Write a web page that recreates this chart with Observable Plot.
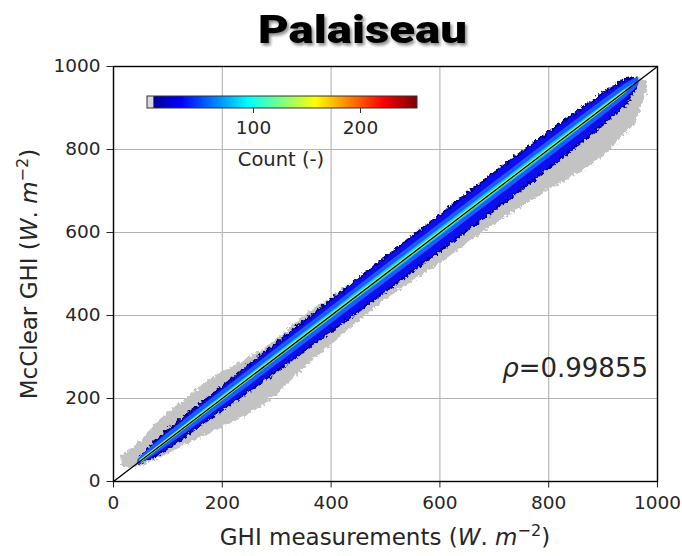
<!DOCTYPE html>
<html>
<head>
<meta charset="utf-8">
<script src="https://cdn.jsdelivr.net/npm/d3@7"></script>
<script src="https://cdn.jsdelivr.net/npm/@observablehq/plot@0.6"></script>
<style>
  html, body { margin: 0; padding: 0; background: #fff; }
  #wrap { position: relative; width: 682px; height: 556px; overflow: hidden; background: #fff; }
  #wrap > svg { position: absolute; left: 0; top: 0; }
</style>
</head>
<body>
<div id="wrap"></div>
<script>
// ---------- data ----------
const title = "Palaiseau";
const xTitle = "GHI measurements";
const yTitle = "McClear GHI";
const rhoValue = "0.99855";
const countLabel = "Count (-)";
const ticks = [0, 200, 400, 600, 800, 1000];
const countTicks = [100, 200];
const countDomain = [0, 254];
const diagonal = [0, 1000];

// grey cloud (low-count cells): envelope per measured GHI
const grayX    = [14, 30, 50, 75, 100, 125, 150, 175, 200, 225, 250, 275, 300, 350, 400, 450, 500, 550, 600, 650, 700, 750, 800, 850, 900, 930, 960, 982];
const grayLow  = [38, 32, 36, 50, 66, 82, 98, 114, 130, 146, 163, 183, 208, 272, 328, 385, 438, 482, 525, 572, 618, 662, 702, 738, 782, 822, 862, 942];
const grayHigh = [62, 76, 96, 136, 166, 190, 218, 244, 264, 280, 300, 318, 342, 398, 442, 492, 540, 590, 638, 690, 737, 790, 836, 886, 932, 958, 975, 962];

// blue / cyan core of the density
const bandX     = [48, 75, 100, 150, 200, 250, 300, 350, 400, 450, 500, 550, 600, 650, 700, 750, 800, 850, 900, 940, 962];
const blueLow   = [43, 57, 78, 124, 170, 217, 264, 312, 360, 408, 456, 505, 554, 603, 652, 702, 753, 805, 858, 905, 947];
const blueHigh  = [53, 93, 122, 175, 227, 280, 332, 384, 435, 487, 538, 590, 640, 692, 742, 792, 840, 888, 935, 968, 972];
const cyanLow   = [46, 69, 92, 139, 188, 237, 287, 336, 386, 436, 485, 535, 585, 635, 685, 735, 785, 836, 887, 929, 956];
const cyanHigh  = [50, 83, 110, 162, 213, 263, 314, 364, 414, 465, 515, 565, 615, 665, 715, 765, 815, 864, 913, 951, 968];

// highest-count ridge
const ridgeX = [50, 940];
const ridgeY = [51, 941];

// ---------- jet colour map ----------
function jet(t) {
  if (t < 0.022) return "rgb(217,217,217)";
  const c = v => Math.round(255 * Math.max(0, Math.min(1, v)));
  return `rgb(${c(1.5 - Math.abs(4 * t - 3))},${c(1.5 - Math.abs(4 * t - 2))},${c(1.5 - Math.abs(4 * t - 1))})`;
}

const grayRows = grayX.map((x, i) => ({x, lo: grayLow[i], hi: grayHigh[i]}));
const bandRows = bandX.map((x, i) => ({x, blo: blueLow[i], bhi: blueHigh[i], clo: cyanLow[i], chi: cyanHigh[i]}));
const ridgeRows = ridgeX.map((x, i) => ({x, y: ridgeY[i]}));

const wrap = document.getElementById("wrap");

const chart = Plot.plot({
  width: 682,
  height: 556,
  marginLeft: 113,
  marginRight: 25,
  marginTop: 66,
  marginBottom: 75,
  style: {background: "transparent", fontFamily: "DejaVu Sans", fontSize: "18.5px", color: "#262626", overflow: "visible"},
  x: {domain: [0, 1000], ticks: ticks, tickFormat: d => String(d), tickSize: 6.5, tickPadding: 8, label: null},
  y: {domain: [0, 1000], ticks: ticks, tickFormat: d => String(d), tickSize: 6.5, tickPadding: 6.5, label: null},
  marks: [
    Plot.ruleX(ticks, {stroke: "#b3b3b3", strokeWidth: 1.1}),
    Plot.ruleY(ticks, {stroke: "#b3b3b3", strokeWidth: 1.1}),
    Plot.areaY(grayRows, {x: "x", y1: "lo", y2: "hi", fill: "#c3c3c3"}),
    Plot.areaY(bandRows, {x: "x", y1: "blo", y2: "bhi", fill: "#0a0af0", stroke: "#000090", strokeWidth: 2}),
    Plot.areaY(bandRows, {x: "x", y1: "clo", y2: "chi", fill: "#10c8ff", stroke: "#1a5cff", strokeWidth: 4}),
    Plot.line(ridgeRows, {x: "x", y: "y", stroke: "#8cff70", strokeWidth: 3}),
    Plot.line(diagonal, {x: d => d, y: d => d, stroke: "#000", strokeWidth: 1.3}),
    Plot.frame({stroke: "#000", strokeWidth: 1.4})
  ]
});
wrap.appendChild(chart);

// ragged edges for the scatter cloud
const svgC = d3.select(chart);
const defs = svgC.insert("defs", ":first-child");
const f = defs.append("filter").attr("id", "rough").attr("x", "-5%").attr("y", "-5%").attr("width", "110%").attr("height", "110%");
f.append("feTurbulence").attr("type", "fractalNoise").attr("baseFrequency", "0.3").attr("numOctaves", 2).attr("seed", 7).attr("result", "noise");
f.append("feDisplacementMap").attr("in", "SourceGraphic").attr("in2", "noise").attr("scale", 7).attr("xChannelSelector", "R").attr("yChannelSelector", "G");
svgC.selectAll('g[aria-label="area"]').filter((d, i) => i < 2).attr("filter", "url(#rough)");

// colour bar
const legend = Plot.legend({
  color: {type: "linear", domain: countDomain, interpolate: jet},
  width: 270,
  height: 44,
  marginTop: 0,
  marginBottom: 32,
  marginLeft: 0,
  marginRight: 0,
  ticks: countTicks,
  tickSize: 5,
  label: null,
  style: {background: "transparent", fontFamily: "DejaVu Sans", fontSize: "18.5px", color: "#262626", overflow: "visible"}
});
legend.style.position = "absolute";
legend.style.left = "147px";
legend.style.top = "96px";
wrap.appendChild(legend);
const lg = d3.select(legend);
lg.selectAll(".tick line").attr("y1", 0).attr("stroke", "#333");
lg.selectAll(".tick text").attr("y", 13);
lg.append("rect").attr("x", 0).attr("y", 0).attr("width", 270).attr("height", 12).attr("fill", "none").attr("stroke", "#333").attr("stroke-width", 1);

// text overlay
const ov = d3.select(wrap).append("svg").attr("width", 682).attr("height", 556).style("pointer-events", "none");
const odefs = ov.append("defs");
const sh = odefs.append("filter").attr("id", "shadow").attr("x", "-10%").attr("y", "-20%").attr("width", "130%").attr("height", "160%");
sh.append("feDropShadow").attr("dx", 2).attr("dy", 2.5).attr("stdDeviation", 1.4).attr("flood-color", "#000").attr("flood-opacity", 0.45);

ov.append("text").attr("x", 362.5).attr("y", 43).attr("text-anchor", "middle")
  .attr("font-family", "Roboto").attr("font-weight", 900).attr("font-size", 39)
  .attr("textLength", 209).attr("lengthAdjust", "spacingAndGlyphs")
  .attr("fill", "#000")
  .attr("filter", "url(#shadow)").text(title);

function unitLabel(sel, name) {
  sel.append("tspan").text(name + " (");
  sel.append("tspan").attr("font-style", "italic").text("W");
  sel.append("tspan").text(". ");
  sel.append("tspan").attr("font-style", "italic").text("m");
  sel.append("tspan").attr("font-size", "0.7em").attr("dy", "-0.55em").text("\u22122");
  sel.append("tspan").attr("dy", "0.385em").text(")");
}
const xl = ov.append("text").attr("x", 385).attr("y", 545).attr("text-anchor", "middle")
  .attr("font-family", "DejaVu Sans").attr("font-size", 23).attr("fill", "#262626");
unitLabel(xl, xTitle);
const yl = ov.append("text").attr("transform", "translate(37,274) rotate(-90)").attr("text-anchor", "middle")
  .attr("font-family", "DejaVu Sans").attr("font-size", 23).attr("fill", "#262626");
unitLabel(yl, yTitle);

const rho = ov.append("text").attr("x", 648).attr("y", 377).attr("text-anchor", "end")
  .attr("font-family", "DejaVu Sans").attr("font-size", 26).attr("fill", "#262626");
rho.append("tspan").attr("font-style", "italic").text("\u03c1");
rho.append("tspan").text("=" + rhoValue);

ov.append("text").attr("x", 281).attr("y", 166).attr("text-anchor", "middle")
  .attr("font-family", "DejaVu Sans").attr("font-size", 19.5).attr("fill", "#262626").text(countLabel);
</script>
</body>
</html>
